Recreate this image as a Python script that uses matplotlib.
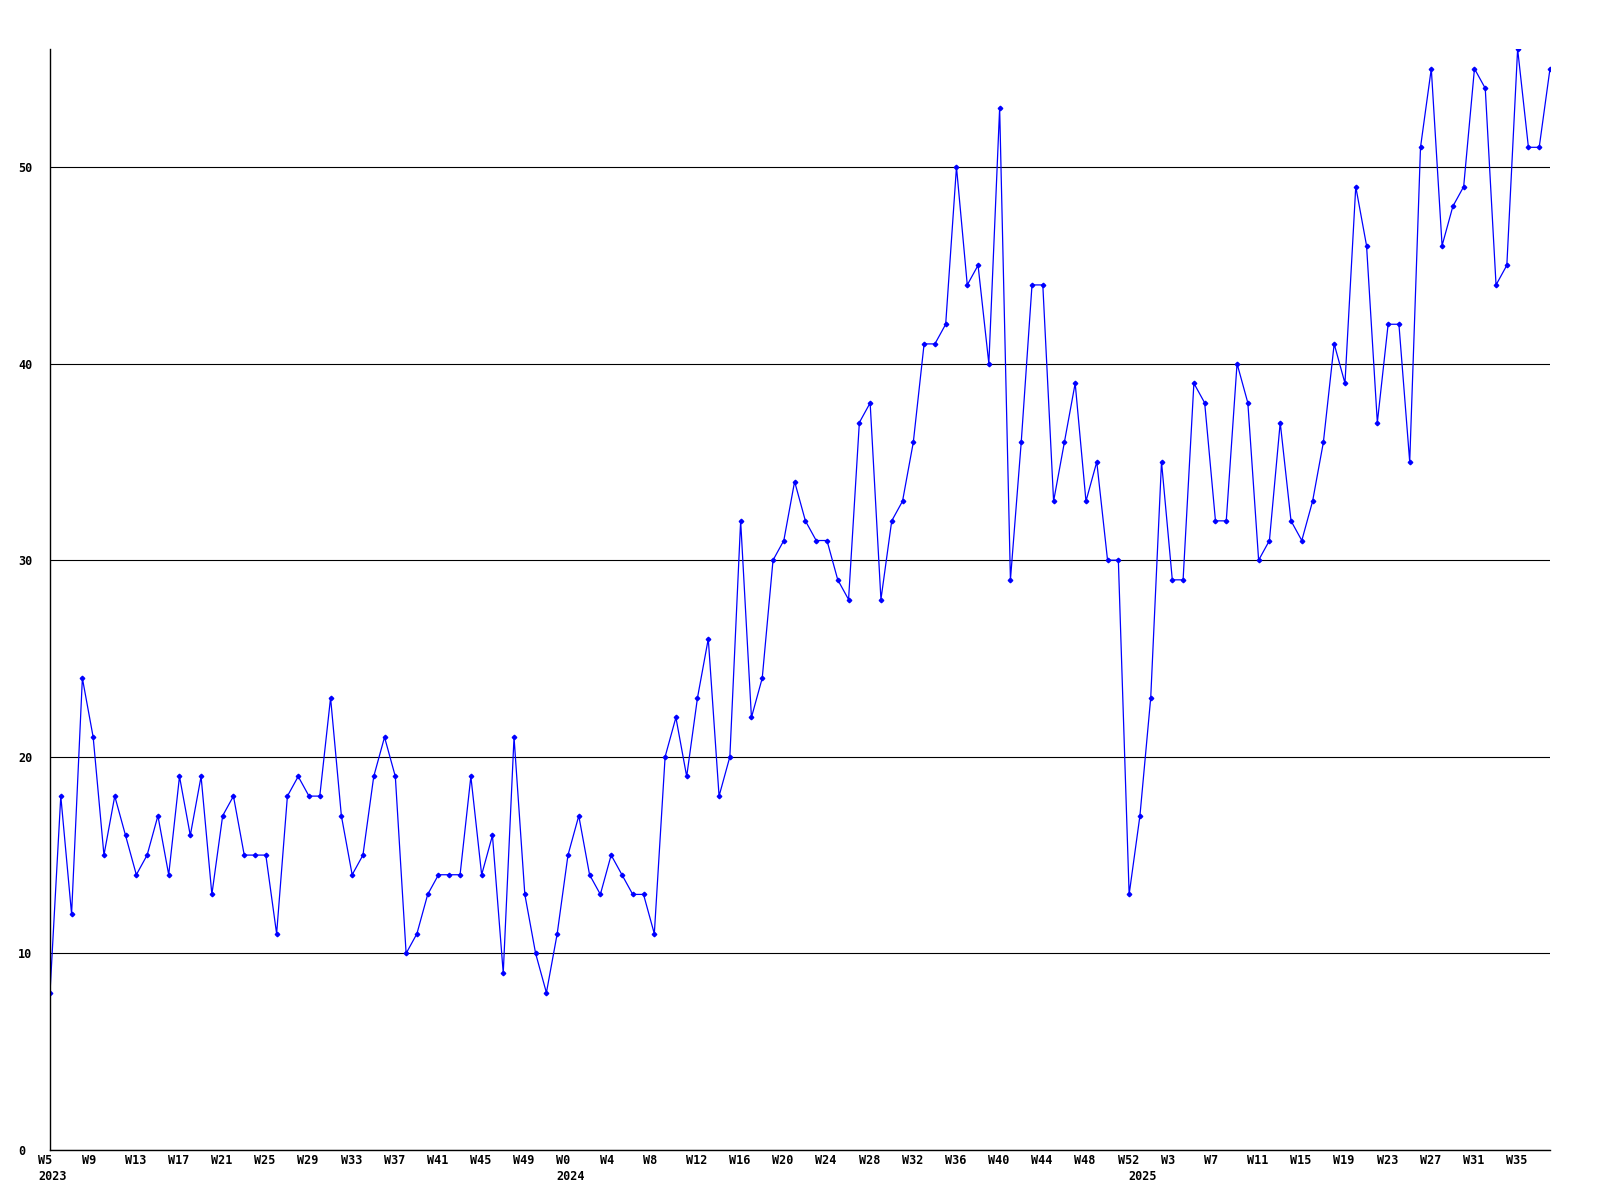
import numpy as np
import matplotlib.pyplot as plt
from matplotlib.transforms import offset_copy

# weekly counts, 2023 W5 .. 2025 W38
values = [8, 18, 12, 24, 21, 15, 18, 16, 14, 15, 17, 14, 19, 16, 19, 13, 17, 18, 15, 15,
          15, 11, 18, 19, 18, 18, 23, 17, 14, 15, 19, 21, 19,
          10, 11, 13, 14, 14, 14, 19, 14, 16, 9, 21, 13, 10, 8, 11, 15, 17,
          14, 13, 15, 14, 13, 13, 11, 20, 22, 19, 23, 26, 18, 20, 32, 22, 24,
          30, 31, 34, 32, 31, 31, 29, 28, 37, 38, 28, 32, 33, 36, 41, 41, 42, 50,
          44, 45, 40, 53, 29, 36, 44, 44, 33, 36, 39, 33, 35, 30, 30,
          13, 17, 23, 35, 29, 29, 39, 38, 32, 32, 40, 38, 30, 31, 37, 32, 31, 33,
          36, 41, 39, 49, 46, 37, 42, 42, 35, 51, 55, 46, 48, 49, 55, 54, 44, 45,
          56, 51, 51, 55]

# (year, first week, last week) covered by the series
segments = [(2023, 5, 52), (2024, 0, 52), (2025, 0, 38)]

week_labels = []
year_marks = []
for year, w0, w1 in segments:
    year_marks.append((len(week_labels), str(year)))
    for w in range(w0, w1 + 1):
        week_labels.append('W%d' % w)

y_ticks = [0, 10, 20, 30, 40, 50]

x = np.arange(len(values))

fig = plt.figure(figsize=(16, 12), dpi=100)
ax = fig.add_axes([50 / 1600, 50 / 1200, 1500 / 1600, 1101 / 1200])

ax.plot(x, values, color='#0000ff', linewidth=0.9, marker='D', markersize=2.3)

ax.set_xlim(0, len(values) - 1)
ax.set_ylim(0, max(values))

ax.spines['top'].set_visible(False)
ax.spines['right'].set_visible(False)
ax.spines['left'].set_linewidth(1)
ax.spines['bottom'].set_linewidth(1)

ax.set_yticks(y_ticks)
ax.set_yticklabels([str(v) for v in y_ticks], family='DejaVu Sans Mono',
                   fontweight='bold', fontsize=8.5, ha='left')
ax.tick_params(axis='y', length=0, pad=22.8)
ax.yaxis.grid(True, color='black', linewidth=0.8)
ax.set_axisbelow(True)

ax.set_xticks([])
tr = offset_copy(ax.get_xaxis_transform(), fig=fig, x=-11.5, y=-11, units='dots')
for i in range(0, len(values), 4):
    ax.text(i, 0, week_labels[i], transform=tr, ha='left', va='center',
            family='DejaVu Sans Mono', fontweight='bold', fontsize=8.5)
tr2 = offset_copy(ax.get_xaxis_transform(), fig=fig, x=-11.5, y=-27, units='dots')
for i, yr in year_marks:
    ax.text(i, 0, yr, transform=tr2, ha='left', va='center',
            family='DejaVu Sans Mono', fontweight='bold', fontsize=8.5)

fig.savefig('out.png', dpi=100)
